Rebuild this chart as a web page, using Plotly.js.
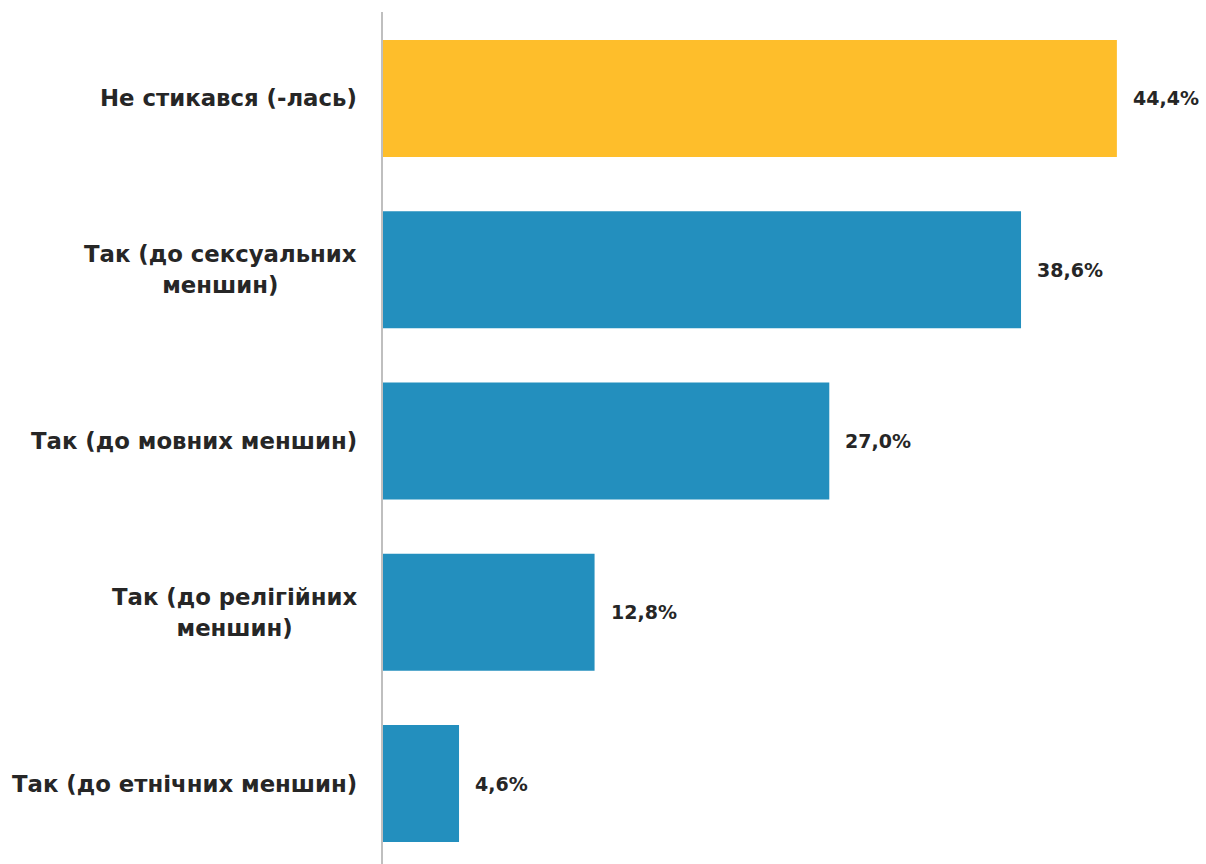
<!DOCTYPE html>
<html>
<head>
<meta charset="utf-8">
<script src="https://cdn.plot.ly/plotly-3.0.1.min.js"></script>
<style>html,body{margin:0;padding:0;background:#fff;}#chart{width:1206px;height:864px;}</style>
</head>
<body>
<div id="chart"></div>
<script>
const categories = ["Не стикався (-лась)", "Так (до сексуальних<br>меншин)", "Так (до мовних меншин)", "Так (до релігійних<br>меншин)", "Так (до етнічних меншин)"];
const values = [44.4, 38.6, 27.0, 12.8, 4.6];
const barColors = ["#FEBE2B", "#238FBE", "#238FBE", "#238FBE", "#238FBE"];

const FONT = "'DejaVu Sans', sans-serif";
const TXT = "#262626";

const trace = {
  type: "bar",
  orientation: "h",
  x: values,
  y: categories.map((c, i) => i),
  marker: {color: barColors, line: {width: 0}},
  hoverinfo: "none"
};

const annotations = [];
values.forEach((v, i) => {
  annotations.push({
    x: v, y: i, xref: "x", yref: "y",
    text: v.toFixed(1).replace(".", ",") + "%",
    showarrow: false, xanchor: "left", yanchor: "middle", xshift: 14,
    font: {family: FONT, size: 19, color: TXT, weight: 700}
  });
  annotations.push({
    x: 0, y: i, xref: "paper", yref: "y",
    text: categories[i].split("<br>").map(s => '<span style="font-size:22.8px">' + s + '</span>').join("<br>"),
    showarrow: false, xanchor: "right", yanchor: "middle", xshift: -24, align: "center",
    font: {family: FONT, size: 24, color: TXT, weight: 700}
  });
});

const layout = {
  width: 1206, height: 864,
  margin: {l: 383, r: 22, t: 12, b: 0},
  paper_bgcolor: "#ffffff", plot_bgcolor: "#ffffff",
  showlegend: false,
  bargap: 0.317,
  xaxis: {range: [0, 48.46], showgrid: false, zeroline: false, showline: false, showticklabels: false, ticks: "", fixedrange: true},
  yaxis: {type: "linear", range: [4.47, -0.505], showgrid: false, zeroline: false, showline: true, linecolor: "#BFBFBF", linewidth: 2, showticklabels: false, ticks: "", fixedrange: true},
  annotations: annotations
};

Plotly.newPlot("chart", [trace], layout, {displayModeBar: false, staticPlot: true});
</script>
</body>
</html>
